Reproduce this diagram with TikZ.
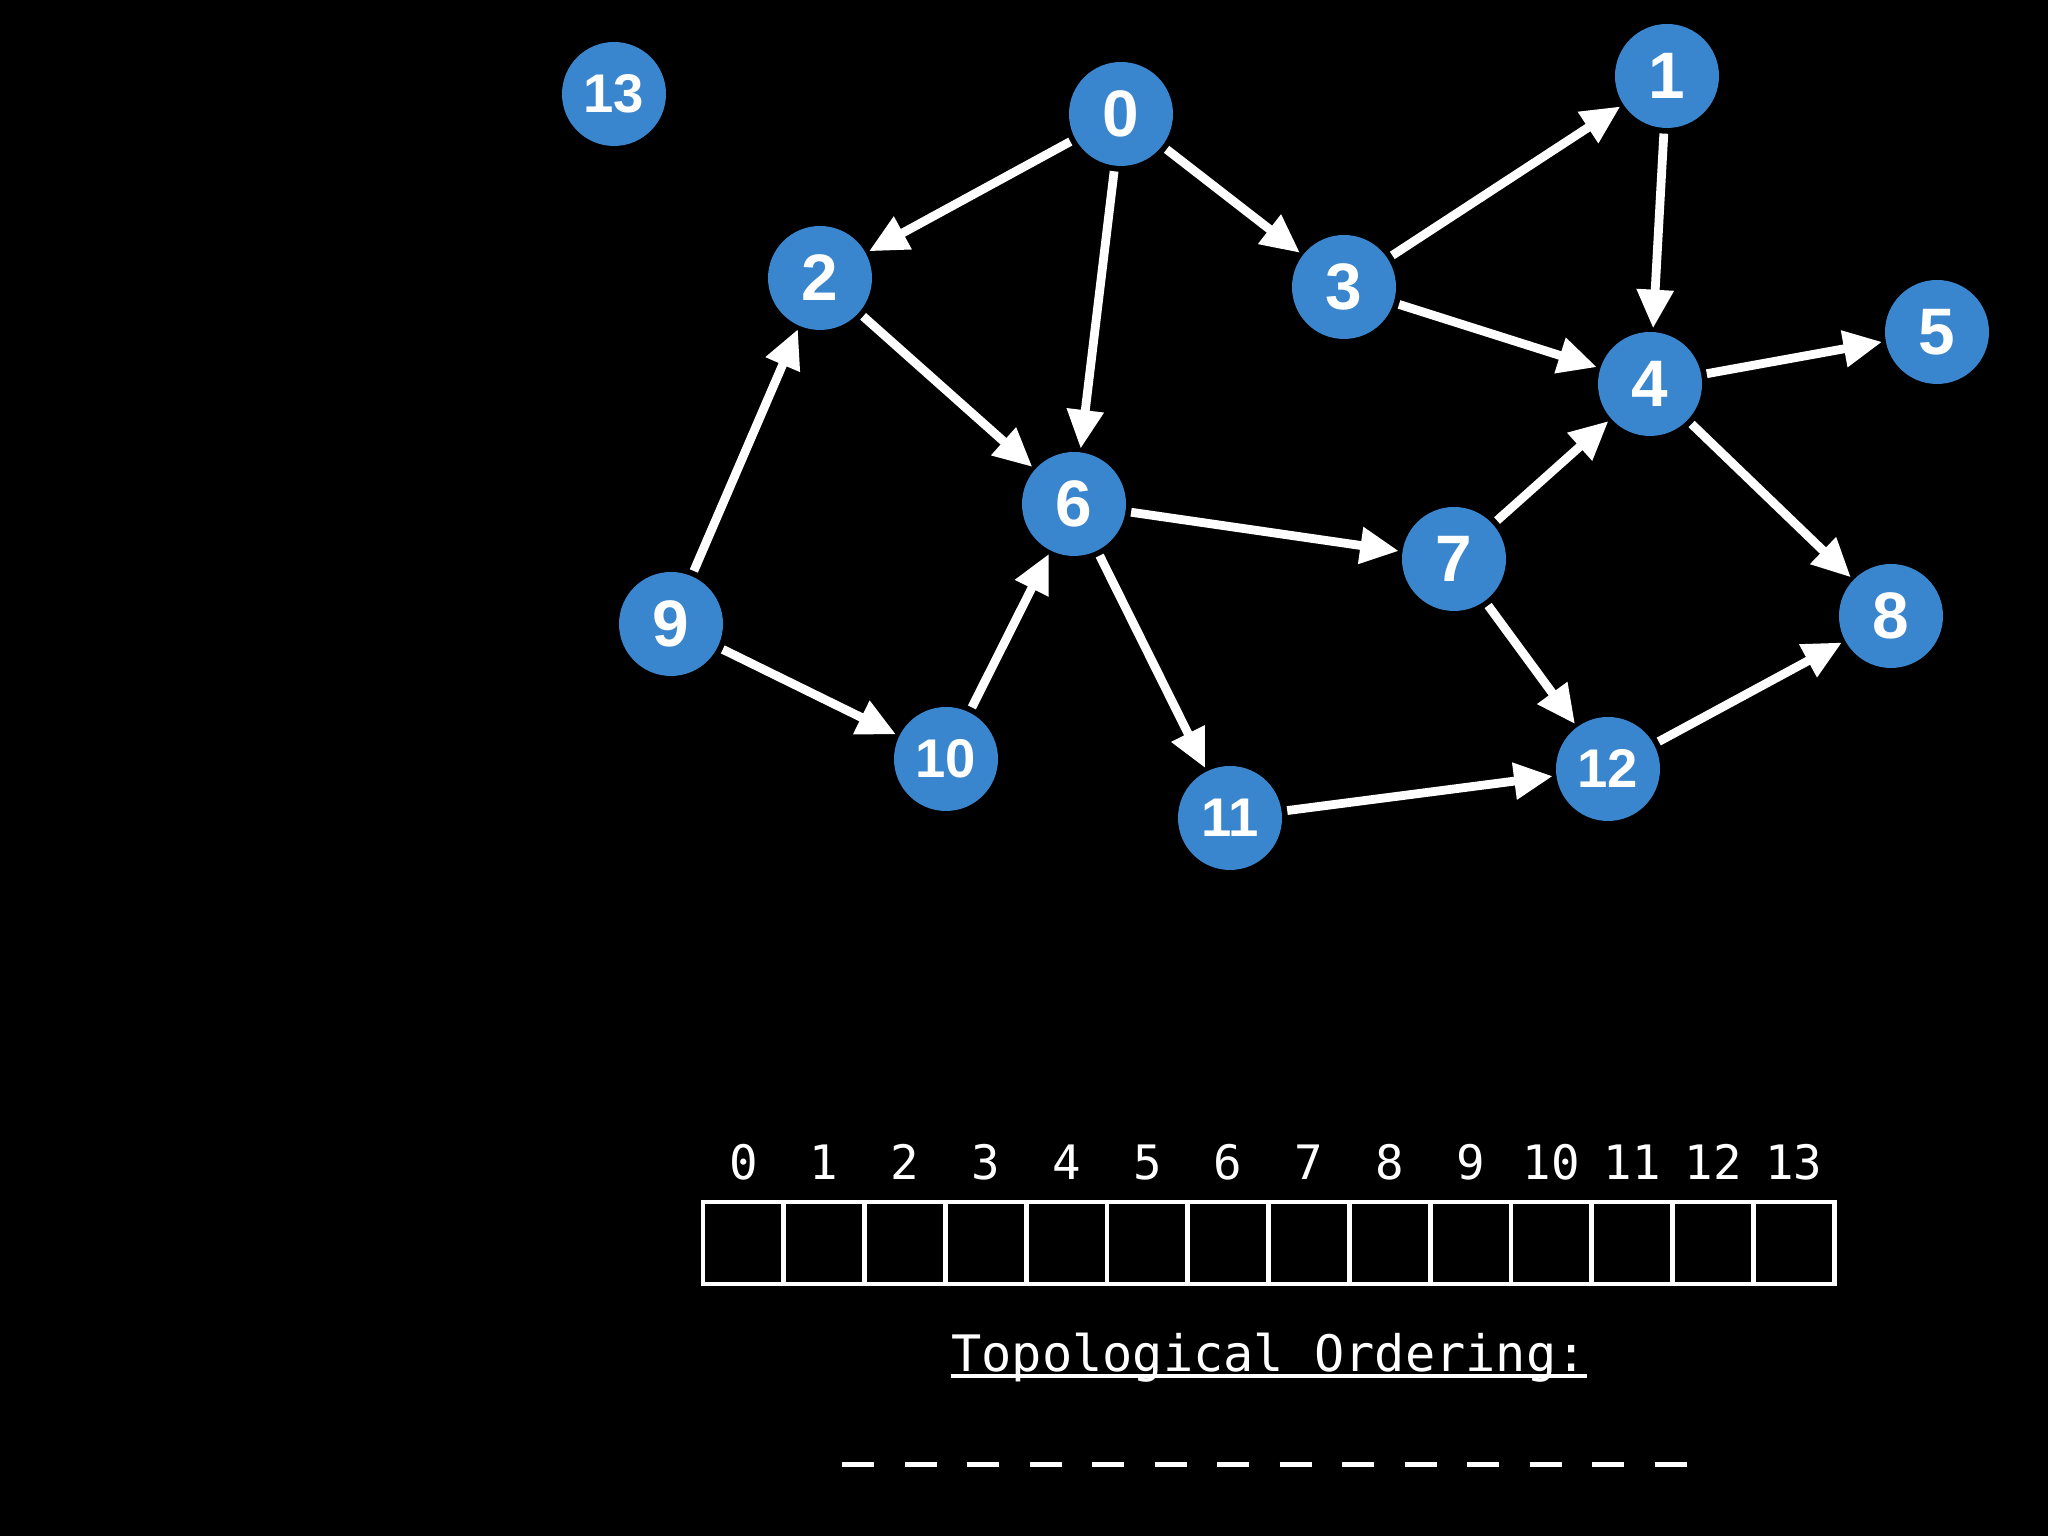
\documentclass[tikz,border=0pt]{standalone}
\usepackage{fontspec}
\setmainfont{Liberation Sans}
\newfontfamily\monofont{DejaVu Sans Mono}
\usetikzlibrary{arrows.meta}
\definecolor{nodeblue}{RGB}{58,134,206}
\begin{document}
\begin{tikzpicture}[x=1cm,y=1cm,
  vert/.style={circle, fill=nodeblue, minimum size=1.04cm, inner sep=0pt, text=white, font=\fontsize{18.7}{18.7}\selectfont\bfseries},
  vertsmall/.style={vert, font=\fontsize{15.5}{15.5}\selectfont\bfseries},
  edge/.style={draw=white, line width=2.5pt, -{Triangle[length=11pt,width=10pt]}, shorten <=0.05cm, shorten >=0.03cm},
  cell/.style={draw=white, line width=1.4pt, minimum width=0.808cm, minimum height=0.82cm, inner sep=0pt},
  idx/.style={text=white, font=\monofont\fontsize{13.5}{13.5}\selectfont, anchor=base, inner sep=0pt},
  ttl/.style={text=white, font=\monofont\fontsize{14.3}{14.3}\selectfont, anchor=base, inner sep=0pt},
]
\fill[black] (0,0) rectangle (20.48,15.36);
\useasboundingbox (0,0) rectangle (20.48,15.36);

% vertices
\node[vert] (n0) at (11.21,14.22) {0};
\node[vert] (n1) at (16.67,14.60) {1};
\node[vert] (n2) at (8.20,12.58) {2};
\node[vert] (n3) at (13.44,12.49) {3};
\node[vert] (n4) at (16.50,11.52) {4};
\node[vert] (n5) at (19.37,12.04) {5};
\node[vert] (n6) at (10.74,10.32) {6};
\node[vert] (n7) at (14.54,9.77) {7};
\node[vert] (n8) at (18.91,9.20) {8};
\node[vert] (n9) at (6.71,9.12) {9};
\node[vertsmall] (n10) at (9.46,7.77) {10};
\node[vertsmall] (n11) at (12.30,7.18) {11};
\node[vertsmall] (n12) at (16.08,7.67) {12};
\node[vertsmall] (n13) at (6.14,14.42) {13};

% edges
\draw[edge] (n0) -- (n2);
\draw[edge] (n0) -- (n6);
\draw[edge] (n0) -- (n3);
\draw[edge] (n3) -- (n1);
\draw[edge] (n3) -- (n4);
\draw[edge] (n1) -- (n4);
\draw[edge] (n4) -- (n5);
\draw[edge] (n4) -- (n8);
\draw[edge] (n2) -- (n6);
\draw[edge] (n9) -- (n2);
\draw[edge] (n9) -- (n10);
\draw[edge] (n10) -- (n6);
\draw[edge] (n6) -- (n7);
\draw[edge] (n6) -- (n11);
\draw[edge] (n7) -- (n4);
\draw[edge] (n7) -- (n12);
\draw[edge] (n11) -- (n12);
\draw[edge] (n12) -- (n8);

% array
\foreach \i in {0,...,13} {
  \node[cell] (c\i) at ({7.03+0.808*(\i+0.5)},2.93) {};
  \node[idx] (i\i) at ({7.03+0.808*(\i+0.5)},3.567) {\i};
}

% title
\node[ttl] (title) at (12.69,1.643) {Topological Ordering:};
\draw[white, line width=1.1pt] ([yshift=-0.04cm]title.base west) -- ([yshift=-0.04cm]title.base east);

% blanks
\foreach \i in {0,...,13} {
  \draw[white, line width=0.05cm] ({8.42+0.625*\i},0.71) -- ++(0.32,0);
}
\end{tikzpicture}
\end{document}
